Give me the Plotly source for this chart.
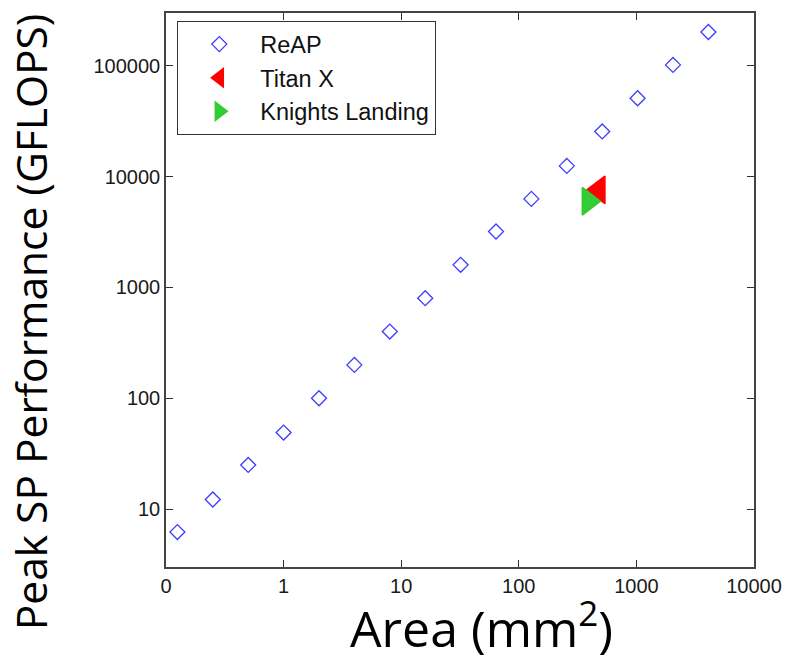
import plotly.graph_objects as go

# Data
reap_area = [0.125, 0.25, 0.5, 1, 2, 4, 8, 16, 32, 64, 128, 256, 512, 1024, 2048, 4096]
reap_perf = [6.2, 12.2, 25, 49, 100, 200, 400, 800, 1600, 3200, 6300, 12500, 25600, 51000, 102000, 202000]
titan_area = [480]
titan_perf = [7600]
knl_area = [390]
knl_perf = [6000]

x_tickvals = [0.1, 1, 10, 100, 1000, 10000]
x_ticktext = ["0", "1", "10", "100", "1000", "10000"]
y_tickvals = [10, 100, 1000, 10000, 100000]
y_ticktext = ["10", "100", "1000", "10000", "100000"]

fig = go.Figure()
fig.add_trace(go.Scatter(
    x=reap_area, y=reap_perf, mode="markers", name="ReAP",
    marker=dict(symbol="diamond-open", size=11.5, color="rgb(60,60,255)",
                line=dict(width=1.3, color="rgb(60,60,255)")),
))
fig.add_trace(go.Scatter(
    x=titan_area, y=titan_perf, mode="markers", name="Titan X",
    marker=dict(symbol="triangle-left", size=24, color="#ff0000",
                line=dict(width=1.5, color="#ff0000")),
))
fig.add_trace(go.Scatter(
    x=knl_area, y=knl_perf, mode="markers", name="Knights Landing",
    marker=dict(symbol="triangle-right", size=24, color="#33cc33",
                line=dict(width=1.5, color="#33cc33")),
))

axis_common = dict(
    type="log", showgrid=False, zeroline=False,
    showline=True, linecolor="#444", linewidth=1.5, mirror="ticks",
    ticks="inside", ticklen=7, tickwidth=1.3, tickcolor="#333",
    tickfont=dict(family="Liberation Sans, Arial", size=20, color="#1a1a1a"),
)

fig.update_xaxes(range=[-1, 4], tickmode="array", tickvals=x_tickvals,
                 ticktext=x_ticktext, **axis_common)
fig.update_yaxes(range=[0.477, 5.477], tickmode="array", tickvals=y_tickvals,
                 ticktext=y_ticktext, **axis_common)

fig.add_annotation(
    text="Peak SP Performance (GFLOPS)", xref="paper", yref="paper",
    x=-0.231, y=0.442, xanchor="center", yanchor="middle", textangle=-90,
    showarrow=False, font=dict(family="Open Sans", size=42.5, color="#000"),
)
fig.add_annotation(
    text="Area (mm<sup>2</sup>)", xref="paper", yref="paper",
    x=0.5366, y=-0.106, xanchor="center", yanchor="middle",
    showarrow=False, font=dict(family="Open Sans", size=50, color="#000"),
)

fig.update_layout(
    width=782, height=652,
    margin=dict(l=158, r=36, t=3, b=93),
    paper_bgcolor="white", plot_bgcolor="white",
    showlegend=True,
    legend=dict(
        x=0.0187, y=0.9855, xanchor="left", yanchor="top",
        bgcolor="white", bordercolor="#333", borderwidth=1.3,
        font=dict(family="Liberation Sans, Arial", size=23.5, color="#111"),
        itemwidth=72, tracegroupgap=0,
    ),
)

fig.write_html("out.html")
